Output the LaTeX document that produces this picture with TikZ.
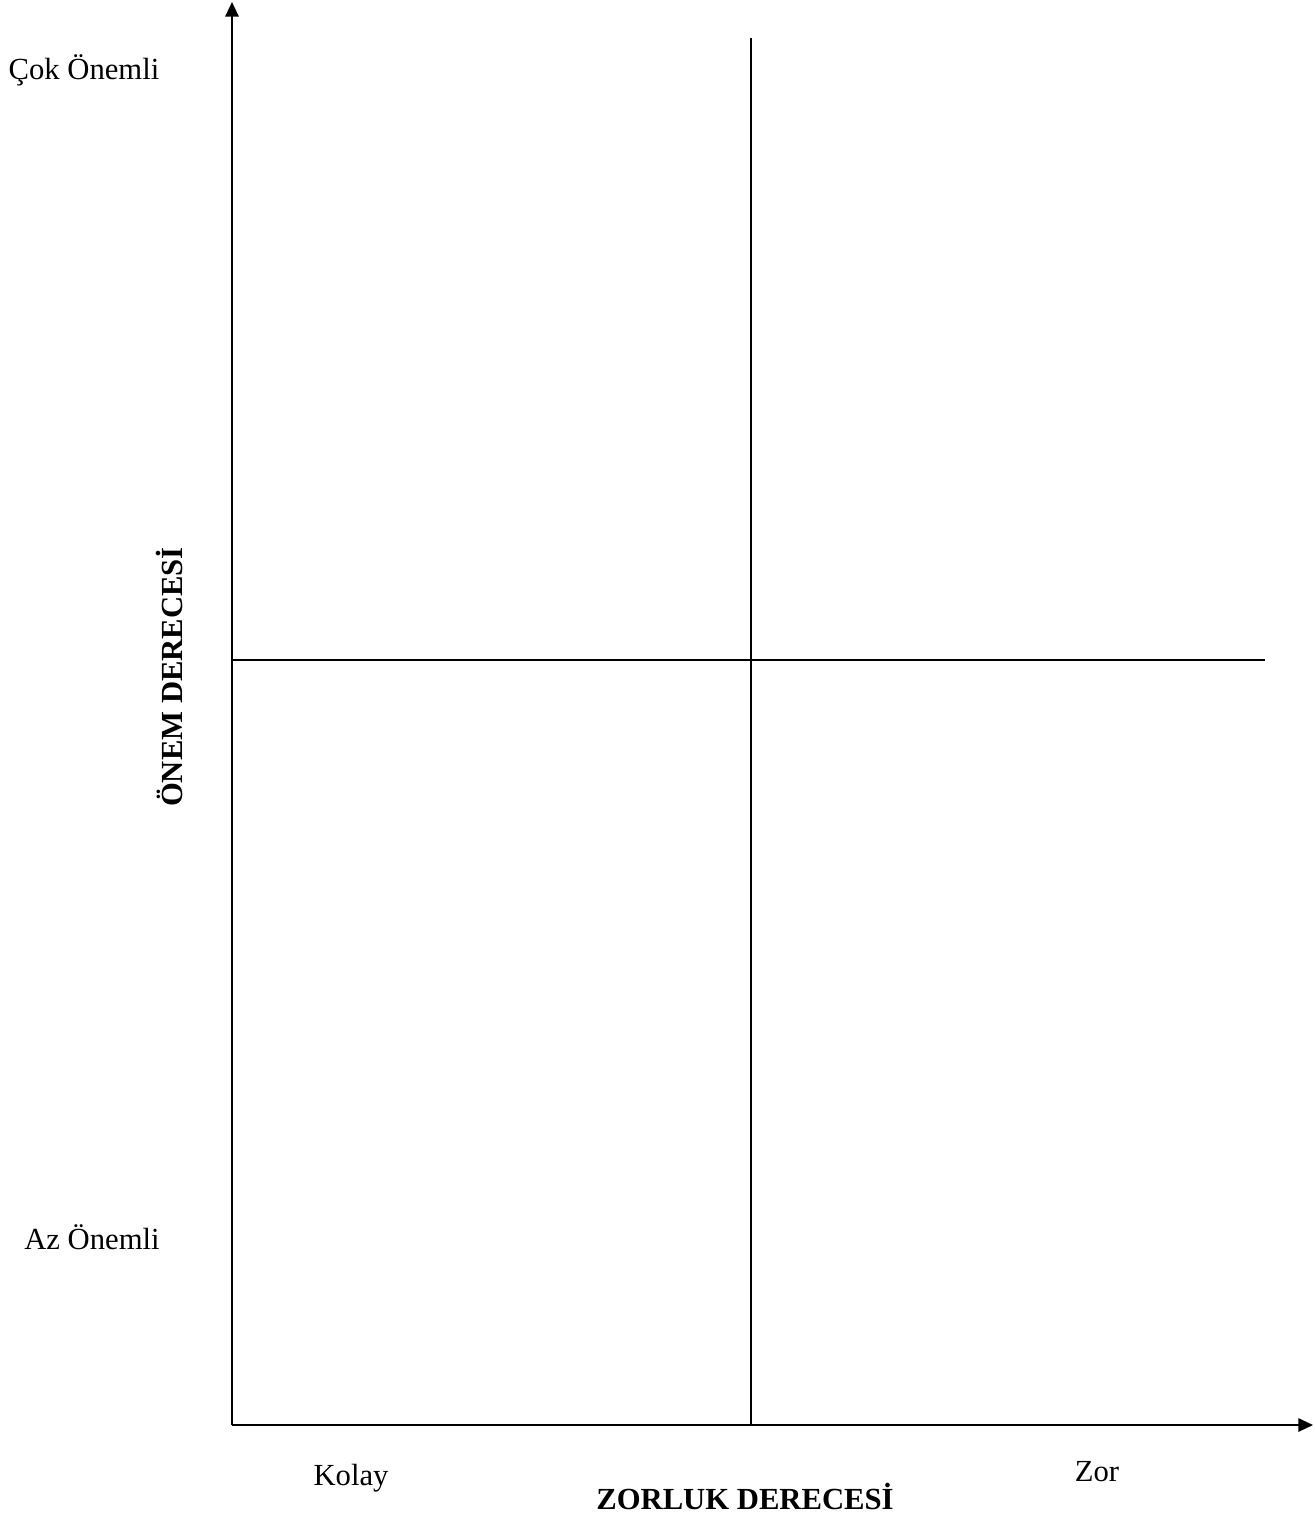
\documentclass[tikz,border=0pt]{standalone}
\usepackage{fontspec}
\setmainfont{Liberation Serif}
\usetikzlibrary{arrows.meta}
\begin{document}
\begin{tikzpicture}[x=0.75pt,y=-0.75pt,
  axis/.style={line width=1.5pt,-{Triangle[length=11pt,width=10pt]}},
  divider/.style={line width=1.1pt},
  lbl/.style={inner sep=0pt,font=\fontsize{23}{27}\selectfont},
  title/.style={inner sep=0pt,font=\fontsize{23}{27}\selectfont\bfseries}]
\useasboundingbox (0,0) rectangle (1314,1513);
\coordinate (o) at (232,1425);
\coordinate (ytip) at (232,2);
\coordinate (xtip) at (1313,1425);
\coordinate (vtop) at (751,38);
\coordinate (vbot) at (751,1425);
\coordinate (hl) at (232,660);
\coordinate (hr) at (1265,660);
\draw[axis] (o) -- (ytip);
\draw[axis] (o) -- (xtip);
\draw[divider] (vtop) -- (vbot);
\draw[divider] (hl) -- (hr);
\node[lbl] (cok) at (84,70) {Çok Önemli};
\node[lbl,anchor=east] (az) at (160,1237) {Az Önemli};
\node[title,rotate=90] (onem) at (170,677) {ÖNEM DERECESİ};
\node[lbl] (kolay) at (351,1478) {Kolay};
\node[lbl] (zor) at (1097,1472) {Zor};
\node[title] (zorluk) at (745,1496) {ZORLUK DERECESİ};
\end{tikzpicture}
\end{document}
